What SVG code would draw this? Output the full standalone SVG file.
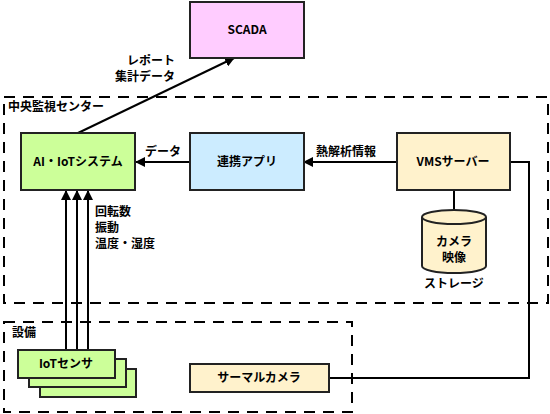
<svg xmlns="http://www.w3.org/2000/svg" width="550" height="414" viewBox="0 0 550 414">
<style>
text{font-family:"Noto Sans CJK JP","Liberation Sans",sans-serif;font-size:12px;fill:#000}
.b{font-weight:bold}
.n{font-weight:bold}
.box{stroke:#222;stroke-width:2}
.zone{fill:none;stroke:#000;stroke-width:2;stroke-dasharray:11 8}
.ln{fill:none;stroke:#000;stroke-width:2}
</style>
<defs>
<marker id="ah" markerWidth="10" markerHeight="10" refX="9" refY="5" orient="auto" markerUnits="userSpaceOnUse">
<path d="M0,0 L10,5 L0,10 z" fill="#000"/>
</marker>
</defs>
<rect width="550" height="414" fill="#fff"/>
<g id="zone-center">
<rect class="zone" x="4" y="97" width="544" height="206"/>
<text x="8" y="111" class="n">中央監視センター</text>
</g>
<g id="zone-equip">
<rect class="zone" x="4" y="322" width="348" height="90"/>
<text x="12" y="337" class="n">設備</text>
</g>
<g id="connectors">
<path class="ln" d="M78,133 L234,58" marker-end="url(#ah)"/>
<path class="ln" d="M190,162 L136,162" marker-end="url(#ah)"/>
<path class="ln" d="M397,162 L304,162" marker-end="url(#ah)"/>
<path class="ln" d="M66,350 L66,191" marker-end="url(#ah)"/>
<path class="ln" d="M77,350 L77,191" marker-end="url(#ah)"/>
<path class="ln" d="M88,350 L88,191" marker-end="url(#ah)"/>
<path class="ln" d="M454,190 L454,210"/>
<path class="ln" d="M510,162 L529,162 L529,378 L329,378"/>
<text x="175" y="65" text-anchor="end" class="n">レポート</text>
<text x="175" y="81" text-anchor="end" class="n">集計データ</text>
<text x="145" y="156" class="n">データ</text>
<text x="316" y="156" class="n">熱解析情報</text>
<text x="95" y="216" class="n">回転数</text>
<text x="95" y="232" class="n">振動</text>
<text x="95" y="248" class="n">温度・湿度</text>
</g>
<g id="scada">
<rect class="box" x="190" y="2" width="114" height="56" fill="#FFCCFF"/>
<text x="247" y="34" text-anchor="middle" class="b">SCADA</text>
</g>
<g id="ai-iot">
<rect class="box" x="21" y="133" width="114" height="57" fill="#CCFF99"/>
<text x="78" y="166" text-anchor="middle" class="b">AI・IoTシステム</text>
</g>
<g id="renkei">
<rect class="box" x="190" y="133" width="114" height="57" fill="#CCECFF"/>
<text x="247" y="166" text-anchor="middle" class="b">連携アプリ</text>
</g>
<g id="vms">
<rect class="box" x="397" y="133" width="113" height="57" fill="#FFF2CC"/>
<text x="453" y="166" text-anchor="middle" class="b">VMSサーバー</text>
</g>
<g id="storage">
<path class="box" d="M422,217 L422,266 A32,7 0 0 0 486,266 L486,217 A32,7 0 0 0 422,217 Z" fill="#FFF2CC"/>
<path class="box" d="M422,217 A32,7 0 0 0 486,217" fill="none"/>
<text x="454" y="246" text-anchor="middle" class="b">カメラ</text>
<text x="454" y="262" text-anchor="middle" class="b">映像</text>
<text x="454" y="288" text-anchor="middle" class="n">ストレージ</text>
</g>
<g id="iot-sensor">
<rect class="box" x="40" y="369" width="96" height="28" fill="#CCFF99"/>
<rect class="box" x="29" y="359" width="97" height="28" fill="#CCFF99"/>
<rect class="box" x="18" y="350" width="97" height="28" fill="#CCFF99"/>
<text x="66" y="368" text-anchor="middle" class="b">IoTセンサ</text>
</g>
<g id="thermal">
<rect class="box" x="190" y="364" width="139" height="28" fill="#FFF2CC"/>
<text x="259" y="382" text-anchor="middle" class="b">サーマルカメラ</text>
</g>
</svg>
